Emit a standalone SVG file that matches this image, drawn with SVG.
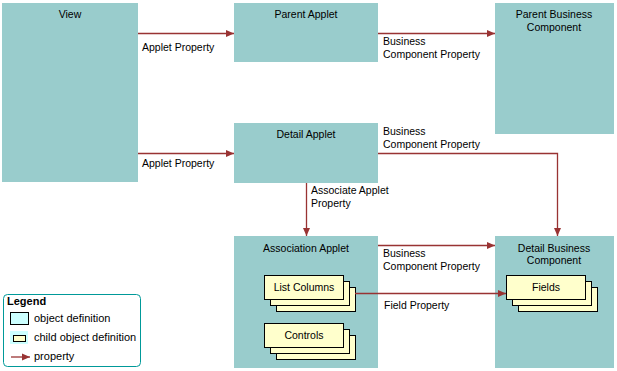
<svg xmlns="http://www.w3.org/2000/svg" width="617" height="371" viewBox="0 0 617 371">
<style>
.obj{fill:#99cccc}
.child{fill:#ffffcc;stroke:#000;stroke-width:1}
.t{font-family:"Liberation Sans",Arial,sans-serif;font-size:10.5px;fill:#000}
.c{text-anchor:middle}
.lg{font-size:11px}
.conn{fill:none;stroke:#993333;stroke-width:1.3}
</style>
<defs>
<marker id="ah" viewBox="0 0 8 8" refX="8" refY="4" markerWidth="8" markerHeight="8" markerUnits="userSpaceOnUse" orient="auto">
<path d="M0,0.5 L8,4 L0,7.5 Z" fill="#993333"/>
</marker>
</defs>
<rect width="617" height="371" fill="#fff"/>
<g id="view"><rect class="obj" x="2" y="3" width="136" height="179"/><text class="t c" x="70" y="18">View</text></g>
<g id="parent-applet"><rect class="obj" x="234" y="3" width="144" height="59"/><text class="t c" x="306" y="18">Parent Applet</text></g>
<g id="parent-bc"><rect class="obj" x="495" y="3" width="119" height="131"/><text class="t c" x="554" y="18">Parent Business</text><text class="t c" x="554" y="31">Component</text></g>
<g id="detail-applet"><rect class="obj" x="234" y="123" width="144" height="60"/><text class="t c" x="306" y="138">Detail Applet</text></g>
<g id="association-applet"><rect class="obj" x="234" y="236" width="144" height="132"/><text class="t c" x="306" y="251.5">Association Applet</text></g>
<g id="detail-bc"><rect class="obj" x="495" y="236" width="119" height="132"/><text class="t c" x="554" y="251.5">Detail Business</text><text class="t c" x="554" y="263.5">Component</text></g>
<g id="list-columns"><rect class="child" x="276.5" y="287.5" width="79" height="24"/><rect class="child" x="270.5" y="281.5" width="79" height="24"/><rect class="child" x="264.5" y="275.5" width="79" height="24"/><text class="t c" x="304" y="290.5">List Columns</text></g>
<g id="controls"><rect class="child" x="276.5" y="335.5" width="79" height="24"/><rect class="child" x="270.5" y="329.5" width="79" height="24"/><rect class="child" x="264.5" y="323.5" width="79" height="24"/><text class="t c" x="304" y="338.5">Controls</text></g>
<g id="fields"><rect class="child" x="518.5" y="287.5" width="79" height="24"/><rect class="child" x="512.5" y="281.5" width="79" height="24"/><rect class="child" x="506.5" y="275.5" width="79" height="24"/><text class="t c" x="546" y="290.5">Fields</text></g>
<g id="connectors">
<path class="conn" d="M138,33.5 H234" marker-end="url(#ah)"/>
<path class="conn" d="M138,153.5 H234" marker-end="url(#ah)"/>
<path class="conn" d="M378,33.5 H495" marker-end="url(#ah)"/>
<path class="conn" d="M378,153.5 H557.5 V236" marker-end="url(#ah)"/>
<path class="conn" d="M306.5,183 V236" marker-end="url(#ah)"/>
<path class="conn" d="M378,245.5 H495" marker-end="url(#ah)"/>
<path class="conn" d="M355,293.5 H506" marker-end="url(#ah)"/>
<text class="t" x="142" y="51">Applet Property</text>
<text class="t" x="142" y="167">Applet Property</text>
<text class="t" x="383" y="45">Business</text>
<text class="t" x="383" y="58">Component Property</text>
<text class="t" x="383" y="135">Business</text>
<text class="t" x="383" y="148">Component Property</text>
<text class="t" x="311" y="194">Associate Applet</text>
<text class="t" x="311" y="207">Property</text>
<text class="t" x="383" y="257">Business</text>
<text class="t" x="383" y="270">Component Property</text>
<text class="t" x="384" y="309">Field Property</text>
</g>
<g id="legend">
<rect x="3.5" y="294.5" width="137" height="72" rx="4" fill="#fff" stroke="#009999" stroke-width="1"/>
<text class="t lg" x="7" y="305" font-weight="bold">Legend</text>
<rect x="10.5" y="312.5" width="18" height="12" fill="#ccffff" stroke="#000"/>
<text class="t lg" x="34" y="322">object definition</text>
<rect x="10" y="331" width="18" height="13" fill="#ccffff"/>
<rect x="13.5" y="335.5" width="12" height="6" fill="#ffffcc" stroke="#000"/>
<text class="t lg" x="34" y="341">child object definition</text>
<path class="conn" d="M11,357 H30" marker-end="url(#ah)"/>
<text class="t lg" x="34" y="360">property</text>
</g>
</svg>
